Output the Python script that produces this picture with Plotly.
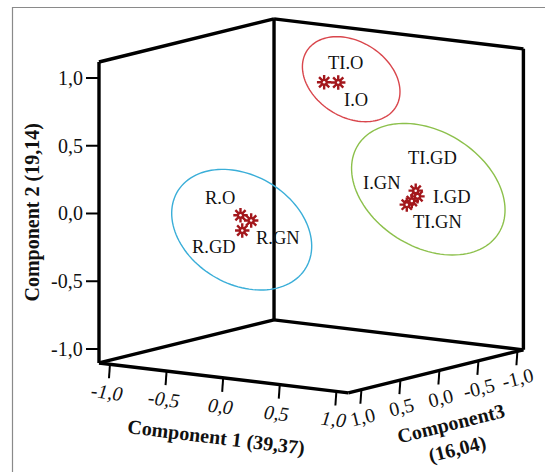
import numpy as np
import plotly.graph_objects as go

# ---------------- data ----------------
labels = ["R.O", "R.GN", "R.GD", "TI.O", "I.O", "TI.GD", "I.GD", "I.GN", "TI.GN"]
comp1 = [-0.41, -0.35, -0.36, -0.05, 0.04, 0.69, 0.74, 0.69, 0.68]
comp2 = [-0.06, -0.10, -0.16, 0.88, 0.88, 0.14, 0.11, 0.07, 0.05]
comp3 = [0.35, 0.30, 0.40, -0.20, -0.25, -0.30, -0.25, -0.25, -0.20]

tick_values = [-1.0, -0.5, 0.0, 0.5, 1.0]
tick_labels = ["-1,0", "-0,5", "0,0", "0,5", "1,0"]

title_c1 = "Component 1 (39,37)"
title_c2 = "Component 2 (19,14)"
title_c3 = "Component3<br>(16,04)"

# ---------------- projection / layout constants ----------------
W, H = 545, 472
ORIGIN = (314.2, 206.0)
U1 = (113.2, 13.6)
U2 = (0.0, -135.5)
U3 = (-78.0, 19.2)
C1R = (-1.097, 1.106)
C2R = (-1.103, 1.118)
C3R = (-1.077, 1.167)


def proj(c1, c2, c3):
    x = ORIGIN[0] + c1 * U1[0] + c2 * U2[0] + c3 * U3[0]
    y = ORIGIN[1] + c1 * U1[1] + c2 * U2[1] + c3 * U3[1]
    return x, y


# label offsets (pixels, screen: +x right, +y down)
label_offsets = {
    "R.O": (-20, -17), "R.GN": (27, 17), "R.GD": (-28, 17),
    "TI.O": (21, -19), "I.O": (18, 17),
    "TI.GD": (17, -33), "I.GD": (35, 1), "I.GN": (-30, -18), "TI.GN": (31, 17),
}

SERIF = "Liberation Serif, Times New Roman, serif"
TXT = "#111111"
STAR = "#a3171c"

fig = go.Figure()

# ---- ellipses (group outlines) ----
ellipses = [
    (241.7, 229.7, 74.7, 54.4, 30.6, "#3aaed8"),
    (351.2, 79.2, 52.6, 37.7, 32.4, "#d9464c"),
    (428.3, 189.2, 83.0, 57.7, 32.0, "#8cc04b"),
]
t = np.linspace(0, 2 * np.pi, 120)
for cx, cy, a, b, th, col in ellipses:
    r = np.deg2rad(th)
    ex = cx + a * np.cos(t) * np.cos(r) - b * np.sin(t) * np.sin(r)
    ey = cy + a * np.cos(t) * np.sin(r) + b * np.sin(t) * np.cos(r)
    path = "M " + " L ".join(f"{px:.2f},{py:.2f}" for px, py in zip(ex, ey)) + " Z"
    fig.add_shape(type="path", path=path, line=dict(color=col, width=1.4),
                  xref="x", yref="y", layer="above")

# ---- box edges ----
edges = [
    ((C1R[0], C2R[0], C3R[1]), (C1R[0], C2R[1], C3R[1])),  # left front vertical
    ((C1R[0], C2R[0], C3R[0]), (C1R[0], C2R[1], C3R[0])),  # back vertical
    ((C1R[1], C2R[0], C3R[0]), (C1R[1], C2R[1], C3R[0])),  # right vertical
    ((C1R[0], C2R[1], C3R[1]), (C1R[0], C2R[1], C3R[0])),  # left wall top
    ((C1R[0], C2R[1], C3R[0]), (C1R[1], C2R[1], C3R[0])),  # back wall top
    ((C1R[0], C2R[0], C3R[1]), (C1R[0], C2R[0], C3R[0])),  # floor left-back
    ((C1R[0], C2R[0], C3R[0]), (C1R[1], C2R[0], C3R[0])),  # floor back-right
    ((C1R[0], C2R[0], C3R[1]), (C1R[1], C2R[0], C3R[1])),  # floor front (comp1)
    ((C1R[1], C2R[0], C3R[1]), (C1R[1], C2R[0], C3R[0])),  # floor front (comp3)
]
ex, ey = [], []
for p, q in edges:
    x1, y1 = proj(*p)
    x2, y2 = proj(*q)
    ex += [x1, x2, None]
    ey += [y1, y2, None]
fig.add_trace(go.Scatter(x=ex, y=ey, mode="lines",
                         line=dict(color="black", width=3.4),
                         hoverinfo="skip", showlegend=False))

# ---- ticks ----
tx, ty = [], []
annots = []
for v, lab in zip(tick_values, tick_labels):
    # component 2 (vertical, left front edge)
    x0, y0 = proj(C1R[0], v, C3R[1])
    tx += [x0, x0 - 13, None]
    ty += [y0, y0, None]
    annots.append(dict(x=x0 - 14, y=y0, text=lab, xanchor="right", yanchor="middle",
                       showarrow=False, font=dict(family=SERIF, size=20, color=TXT)))
    # component 1 (front-left floor edge)
    x0, y0 = proj(v, C2R[0], C3R[1])
    tx += [x0, x0 - 1, None]
    ty += [y0, y0 + 14, None]
    annots.append(dict(x=x0 - 3, y=y0 + 28, text=lab, xanchor="center", yanchor="middle",
                       textangle=7, showarrow=False,
                       font=dict(family=SERIF, size=20, color=TXT, style="italic")))
    # component 3 (front-right floor edge)
    x0, y0 = proj(C1R[1], C2R[0], v)
    tx += [x0, x0 - 1, None]
    ty += [y0, y0 + 14, None]
    annots.append(dict(x=x0 + 1, y=y0 + 27, text=lab, xanchor="center", yanchor="middle",
                       textangle=-14, showarrow=False,
                       font=dict(family=SERIF, size=20, color=TXT)))
fig.add_trace(go.Scatter(x=tx, y=ty, mode="lines", line=dict(color="black", width=2),
                         hoverinfo="skip", showlegend=False))

# ---- points ----
px, py = [], []
for c1, c2, c3 in zip(comp1, comp2, comp3):
    x, y = proj(c1, c2, c3)
    px.append(x)
    py.append(y)
fig.add_trace(go.Scatter(x=px, y=py, mode="markers",
                         marker=dict(symbol="asterisk-open", size=12, color=STAR,
                                     line=dict(color=STAR, width=2.4)),
                         hoverinfo="skip", showlegend=False))
fig.add_trace(go.Scatter(x=px, y=py, mode="markers",
                         marker=dict(symbol="circle", size=7, color=STAR, line=dict(width=0)),
                         hoverinfo="skip", showlegend=False))
fig.add_trace(go.Scatter(x=px, y=py, mode="markers",
                         marker=dict(symbol="circle", size=2.5, color="white", line=dict(width=0)),
                         hoverinfo="skip", showlegend=False))

for lab, x, y in zip(labels, px, py):
    dx, dy = label_offsets[lab]
    annots.append(dict(x=x + dx, y=y + dy, text=lab, xanchor="center", yanchor="middle",
                       showarrow=False, font=dict(family=SERIF, size=18.5, color=TXT)))

# ---- axis titles ----
annots.append(dict(x=216, y=437, text=f"<b>{title_c1}</b>", textangle=7, showarrow=False,
                   xanchor="center", yanchor="middle",
                   font=dict(family=SERIF, size=20, color=TXT)))
annots.append(dict(x=454, y=436, text=f"<b>{title_c3}</b>", textangle=-14, showarrow=False,
                   xanchor="center", yanchor="middle",
                   font=dict(family=SERIF, size=20, color=TXT)))
annots.append(dict(x=31.5, y=213, text=f"<b>{title_c2}</b>", textangle=-90, showarrow=False,
                   xanchor="center", yanchor="middle",
                   font=dict(family=SERIF, size=20, color=TXT)))

# ---- outer frame ----
fig.add_shape(type="path", path=f"M 12.5,{H + 5} L 12.5,7.5 L {W + 5},7.5",
              line=dict(color="#8a8a8a", width=1.2), xref="x", yref="y")

fig.update_layout(
    width=W, height=H,
    margin=dict(l=0, r=0, t=0, b=0),
    paper_bgcolor="white", plot_bgcolor="white",
    xaxis=dict(range=[0, W], visible=False, fixedrange=True),
    yaxis=dict(range=[H, 0], visible=False, fixedrange=True),
    annotations=annots,
    showlegend=False,
)

fig.write_html(
    "out.html",
    config={"displayModeBar": False},
    post_script="document.body.style.margin='0px';document.body.style.overflow='hidden';",
)
